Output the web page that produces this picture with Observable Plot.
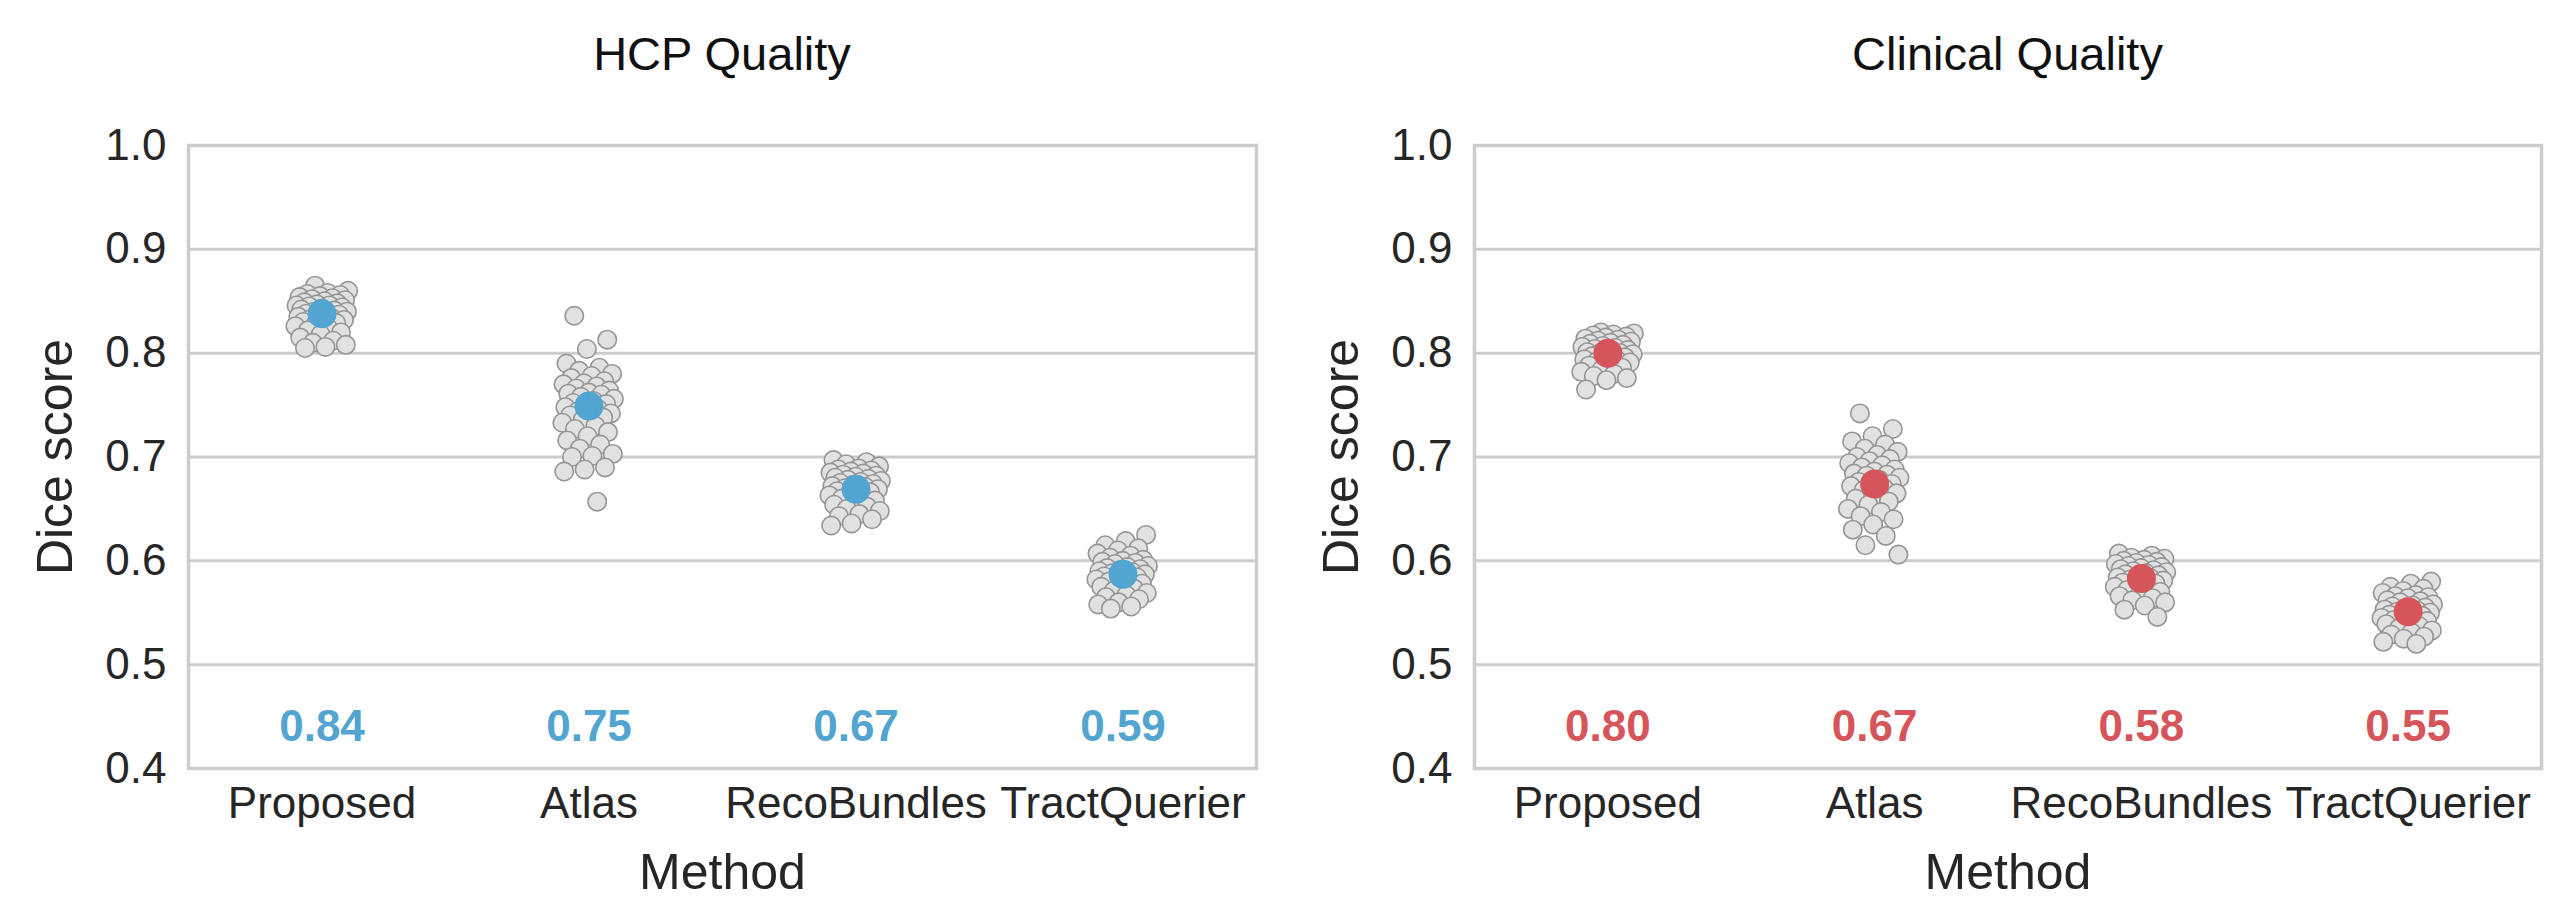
<!DOCTYPE html>
<html>
<head>
<meta charset="utf-8">
<script src="https://cdn.jsdelivr.net/npm/d3@7"></script>
<script src="https://cdn.jsdelivr.net/npm/@observablehq/plot@0.6"></script>
<style>
  html, body { margin: 0; padding: 0; background: #fff; }
  #root { position: relative; width: 2574px; height: 918px; background: #fff; font-family: "Liberation Sans", Arial, sans-serif; }
  .title { position: absolute; top: 28px; height: 52px; line-height: 52px; font-size: 47px; color: #111; text-align: center; }
  .chart { position: absolute; top: 90px; }
</style>
</head>
<body>
<div id="root"></div>
<script>
// ---- data ----
const methods = ["Proposed", "Atlas", "RecoBundles", "TractQuerier"];
const yTicks = [0.4, 0.5, 0.6, 0.7, 0.8, 0.9, 1.0];

const hcpProposed = [0.865, 0.860, 0.858, 0.857, 0.856, 0.855, 0.854, 0.853, 0.852, 0.851, 0.850, 0.849, 0.848, 0.847, 0.846, 0.846, 0.845, 0.844, 0.843, 0.842, 0.841, 0.840, 0.840, 0.839, 0.838, 0.837, 0.836, 0.835, 0.834, 0.833, 0.832, 0.831, 0.830, 0.829, 0.828, 0.826, 0.824, 0.822, 0.820, 0.818, 0.815, 0.812, 0.810, 0.808, 0.806, 0.805];
const hcpAtlas = [0.836, 0.813, 0.804, 0.790, 0.786, 0.783, 0.780, 0.778, 0.776, 0.773, 0.771, 0.770, 0.768, 0.766, 0.764, 0.762, 0.761, 0.760, 0.758, 0.756, 0.754, 0.752, 0.751, 0.750, 0.748, 0.746, 0.744, 0.742, 0.741, 0.740, 0.738, 0.736, 0.733, 0.730, 0.727, 0.724, 0.720, 0.716, 0.712, 0.708, 0.703, 0.701, 0.700, 0.690, 0.688, 0.686, 0.657];
const hcpReco = [0.697, 0.695, 0.693, 0.691, 0.689, 0.688, 0.687, 0.686, 0.685, 0.684, 0.683, 0.682, 0.681, 0.680, 0.679, 0.678, 0.677, 0.676, 0.675, 0.674, 0.673, 0.672, 0.671, 0.670, 0.669, 0.668, 0.667, 0.666, 0.664, 0.663, 0.661, 0.660, 0.658, 0.656, 0.654, 0.652, 0.650, 0.648, 0.645, 0.643, 0.640, 0.636, 0.634];
const hcpTract = [0.625, 0.619, 0.615, 0.612, 0.610, 0.607, 0.605, 0.603, 0.601, 0.600, 0.599, 0.598, 0.597, 0.595, 0.594, 0.593, 0.592, 0.591, 0.590, 0.589, 0.588, 0.587, 0.586, 0.585, 0.584, 0.583, 0.582, 0.581, 0.580, 0.578, 0.577, 0.575, 0.573, 0.571, 0.569, 0.567, 0.565, 0.563, 0.560, 0.558, 0.556, 0.554];
const hcpMeans = [0.838, 0.749, 0.669, 0.587];

const clinProposed = [0.820, 0.819, 0.818, 0.817, 0.816, 0.815, 0.814, 0.813, 0.812, 0.811, 0.810, 0.809, 0.808, 0.807, 0.806, 0.805, 0.804, 0.803, 0.802, 0.801, 0.800, 0.800, 0.799, 0.798, 0.797, 0.796, 0.795, 0.794, 0.793, 0.792, 0.791, 0.790, 0.788, 0.786, 0.784, 0.782, 0.780, 0.778, 0.776, 0.774, 0.765];
const clinAtlas = [0.742, 0.727, 0.720, 0.715, 0.712, 0.708, 0.705, 0.702, 0.700, 0.698, 0.696, 0.694, 0.692, 0.690, 0.688, 0.686, 0.684, 0.683, 0.682, 0.680, 0.678, 0.676, 0.674, 0.673, 0.672, 0.670, 0.668, 0.665, 0.662, 0.660, 0.657, 0.654, 0.650, 0.647, 0.643, 0.640, 0.635, 0.630, 0.624, 0.615, 0.606];
const clinReco = [0.607, 0.605, 0.603, 0.602, 0.601, 0.600, 0.599, 0.598, 0.597, 0.596, 0.595, 0.594, 0.593, 0.592, 0.591, 0.590, 0.589, 0.588, 0.587, 0.586, 0.585, 0.584, 0.583, 0.582, 0.581, 0.580, 0.579, 0.578, 0.576, 0.575, 0.574, 0.572, 0.570, 0.568, 0.566, 0.564, 0.562, 0.560, 0.557, 0.553, 0.546];
const clinTract = [0.580, 0.578, 0.575, 0.573, 0.571, 0.569, 0.567, 0.566, 0.565, 0.564, 0.562, 0.561, 0.560, 0.558, 0.557, 0.556, 0.555, 0.554, 0.553, 0.552, 0.551, 0.550, 0.549, 0.548, 0.547, 0.546, 0.545, 0.544, 0.543, 0.542, 0.540, 0.539, 0.537, 0.535, 0.533, 0.531, 0.529, 0.527, 0.525, 0.522, 0.520];
const clinMeans = [0.800, 0.674, 0.583, 0.551];

const panels = [
  { title: "HCP Quality", groups: [hcpProposed, hcpAtlas, hcpReco, hcpTract], means: hcpMeans, color: "#52a5d1",
    left: 0, width: 1290, marginLeft: 188, marginRight: 34 },
  { title: "Clinical Quality", groups: [clinProposed, clinAtlas, clinReco, clinTract], means: clinMeans, color: "#d6555a",
    left: 1290, width: 1284, marginLeft: 184, marginRight: 33 }
];

// deterministic strip-plot jitter (layout only)
const jitter = i => (((i * 0.6180339887 + 0.37) % 1) - 0.5) * 0.2;

const root = document.getElementById("root");
const FONT = "'Liberation Sans', Arial, sans-serif";

for (const p of panels) {
  const rows = p.groups.flatMap((vals, k) => vals.map((v, i) => ({ k, v, x: k + jitter(i + 3 * k) })));
  const meanRows = p.means.map((m, k) => ({ k, m }));

  const chart = Plot.plot({
    width: p.width,
    height: 828,
    marginLeft: p.marginLeft,
    marginRight: p.marginRight,
    marginTop: 55,
    marginBottom: 150,
    style: { fontFamily: FONT, fontSize: "44px", color: "#262626", background: "#fff", overflow: "visible" },
    x: { domain: [-0.5, 3.5] },
    y: { domain: [0.4, 1.0] },
    marks: [
      Plot.gridY(yTicks.slice(1, -1), { stroke: "#cccccc", strokeOpacity: 1, strokeWidth: 3 }),
      Plot.frame({ stroke: "#cccccc", strokeWidth: 3.5 }),
      Plot.axisY(yTicks, { tickSize: 0, tickPadding: 22, tickFormat: d3.format(".1f"), label: "Dice score",
        labelAnchor: "center", labelArrow: "none", labelOffset: 152, fill: "#262626" }),
      Plot.axisX([0, 1, 2, 3], { tickSize: 0, tickPadding: 18, tickFormat: i => methods[i], label: "Method",
        labelAnchor: "center", labelArrow: "none", labelOffset: 120, fill: "#262626" }),
      Plot.dot(rows, { x: "x", y: "v", r: 9.2, fill: "#e1e1e1", stroke: "#959595", strokeWidth: 1.6 }),
      Plot.dot(meanRows, { x: "k", y: "m", r: 14.5, fill: p.color, stroke: "none" }),
      Plot.text(meanRows, { x: "k", y: () => 0.44, text: d => d.m.toFixed(2), fill: p.color,
        fontWeight: "bold", fontSize: 44 })
    ]
  });

  // enlarge axis labels
  chart.querySelectorAll('[aria-label="y-axis label"], [aria-label="x-axis label"]').forEach(g => g.setAttribute("font-size", 50));

  const t = document.createElement("div");
  t.className = "title";
  t.style.left = (p.left + p.marginLeft) + "px";
  t.style.width = (p.width - p.marginLeft - p.marginRight) + "px";
  t.textContent = p.title;
  root.appendChild(t);

  const wrap = document.createElement("div");
  wrap.className = "chart";
  wrap.style.left = p.left + "px";
  wrap.appendChild(chart);
  root.appendChild(wrap);
}
</script>
</body>
</html>
